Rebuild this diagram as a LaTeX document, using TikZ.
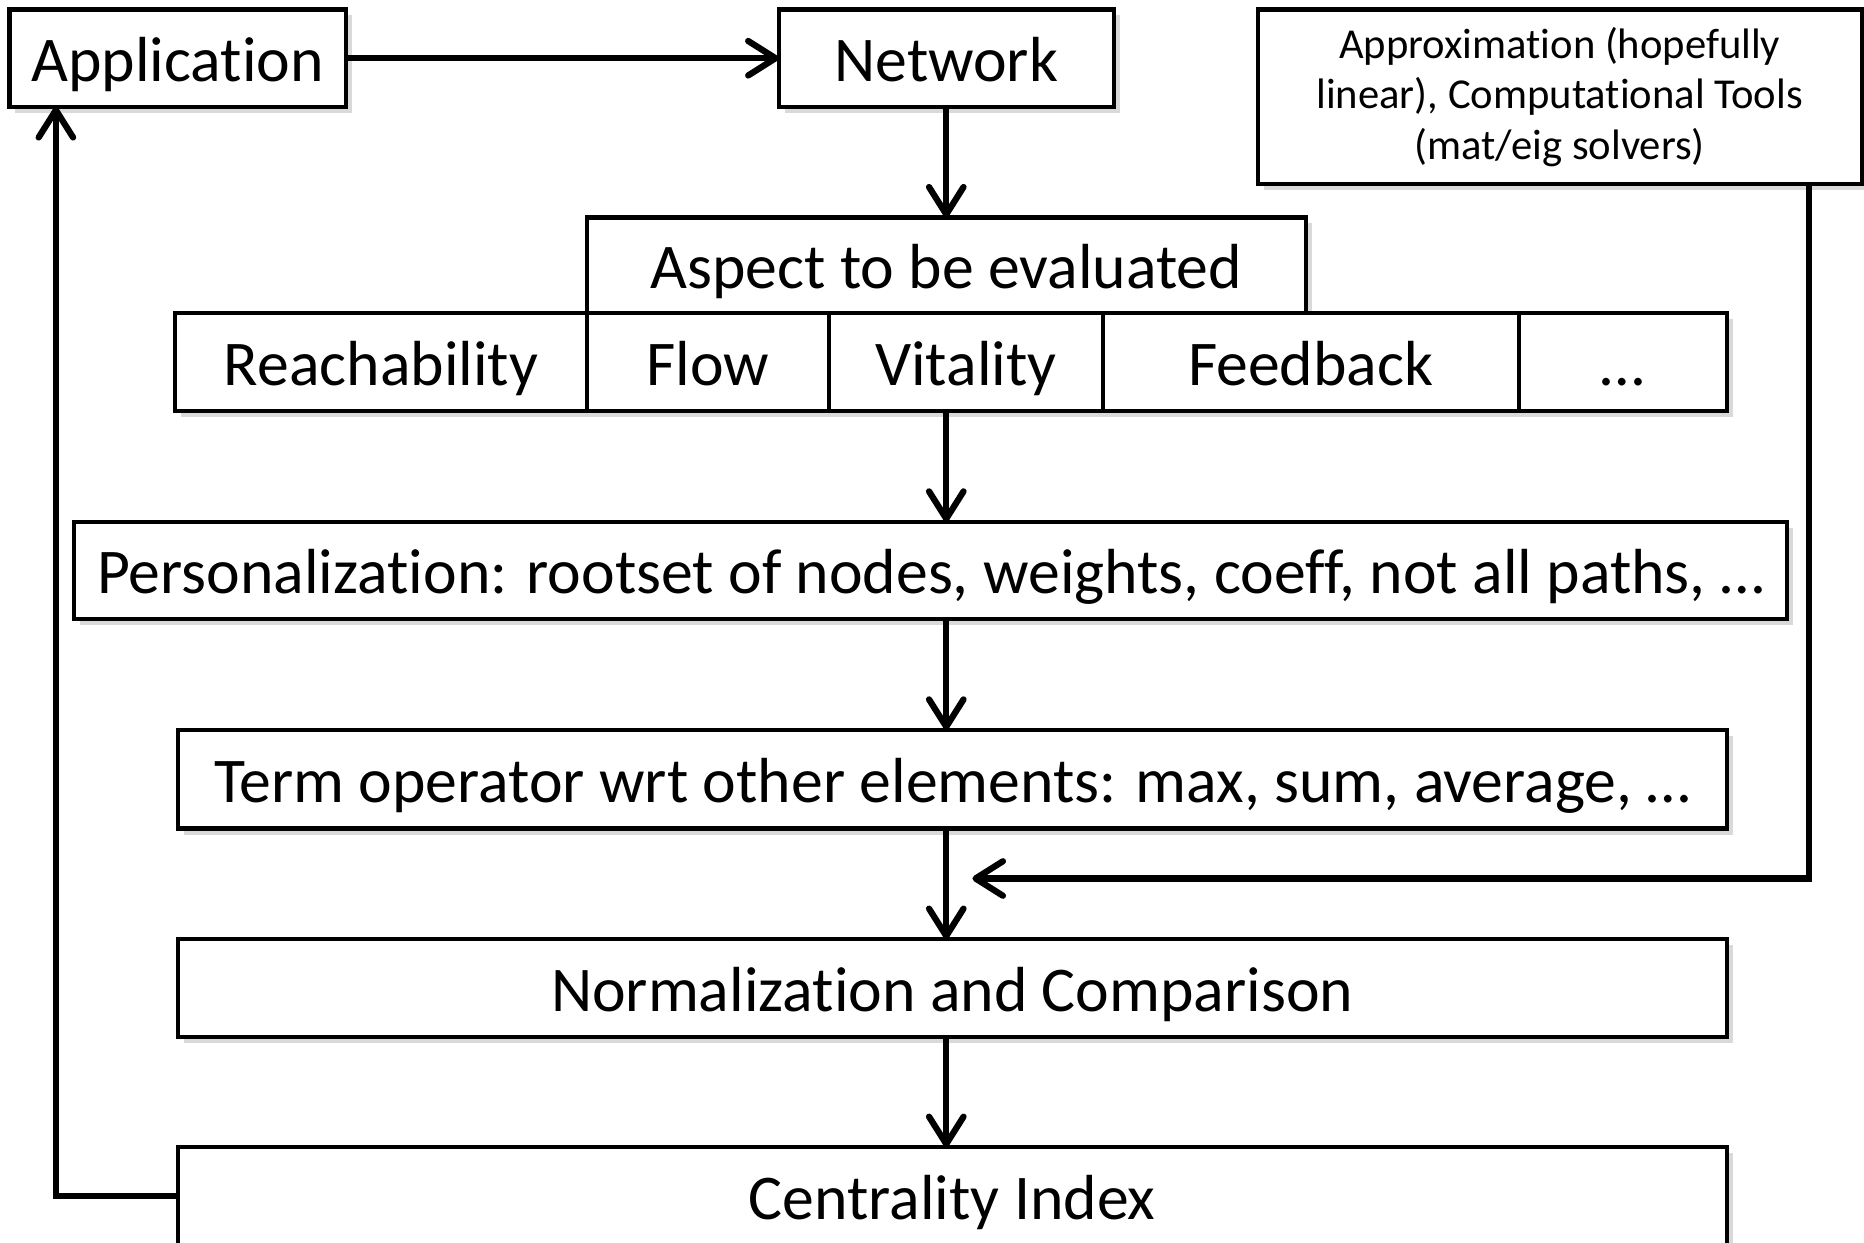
\documentclass[tikz,border=0pt]{standalone}
\usepackage{fontspec}
\setmainfont{Carlito}[Ligatures=NoCommon]
\usetikzlibrary{arrows.meta,positioning,shadows}

\begin{document}
\begin{tikzpicture}[
    node distance=9.3mm,>={Straight Barb[round,length=2.3mm,width=2.9mm]},
    box/.style={rectangle,draw,line width=1pt,fill=white,inner sep=0mm,outer sep=0mm,
        drop shadow={opacity=0.3,shadow xshift=0.5mm,shadow yshift=-0.5mm}},
    stage/.style={box,font=\fontsize{15.25}{18}\selectfont,text height=11.2pt,text depth=0pt},
    cell/.style={stage,minimum height=8.3mm},
    wide/.style={stage,minimum width=13.03cm,minimum height=8.2mm},
    tool/.style={box,align=center,font=\fontsize{10.2}{12.1}\selectfont},
    link/.style={->,line width=1.5pt}
]
 \useasboundingbox (0,0) rectangle (15.68,10.45);

 \node[stage,minimum width=2.83cm,minimum height=8.2mm] (app) at (1.495,9.96) {Application};
 \node[stage,minimum width=2.82cm,minimum height=8.2mm] (net) at (7.96,9.96) {Network};
 \node[tool,minimum width=5.08cm,minimum height=14.7mm] (tools) at (13.12,9.635)
    {Approximation (hopefully\\linear), Computational Tools\\(mat/eig solvers)};

 % aspect row
 \node[stage,minimum width=6.05cm,minimum height=8mm] (asp) [below=of net] {Aspect to be evaluated};
 \node[cell,minimum width=3.46cm] (reach) [below left=0pt of asp.south west] {Reachability};
 \node[cell,minimum width=2.04cm] (flow) [right=0pt of reach] {Flow};
 \node[cell,minimum width=2.30cm] (vital) [right=0pt of flow] {Vitality};
 \node[cell,minimum width=3.50cm] (feed) [right=0pt of vital] {Feedback};
 \node[cell,minimum width=1.75cm] (more) [right=0pt of feed] {…};

 \node[stage,minimum width=14.41cm,minimum height=8.2mm] (pers) [below=of vital,xshift=-2.95mm]
    {Personalization: rootset of nodes, weights, coeff, not all paths, …};
 \node[wide,minimum height=8.3mm] (term) [below=of pers,xshift=1.8mm]
    {Term operator wrt other elements: max, sum, average, …};
 \node[wide] (norm) [below=of term] {Normalization and Comparison};
 \node[wide] (cent) [below=of norm] {Centrality Index};

 \coordinate (merge) at (8.18,3.06);

 \draw[link] (app) -- (net);
 \draw[link] (net) -- (asp);
 \draw[link] (net.south |- vital.south) -- (net.south |- pers.north);
 \draw[link] (net.south |- pers.south) -- (net.south |- term.north);
 \draw[link] (net.south |- term.south) -- (net.south |- norm.north);
 \draw[link] (net.south |- norm.south) -- (net.south |- cent.north);
 \draw[link] ([xshift=2.1cm]tools.south) |- (merge);
 \draw[link] (cent.west) -| ([xshift=-1.025cm]app.south);
\end{tikzpicture}
\end{document}
